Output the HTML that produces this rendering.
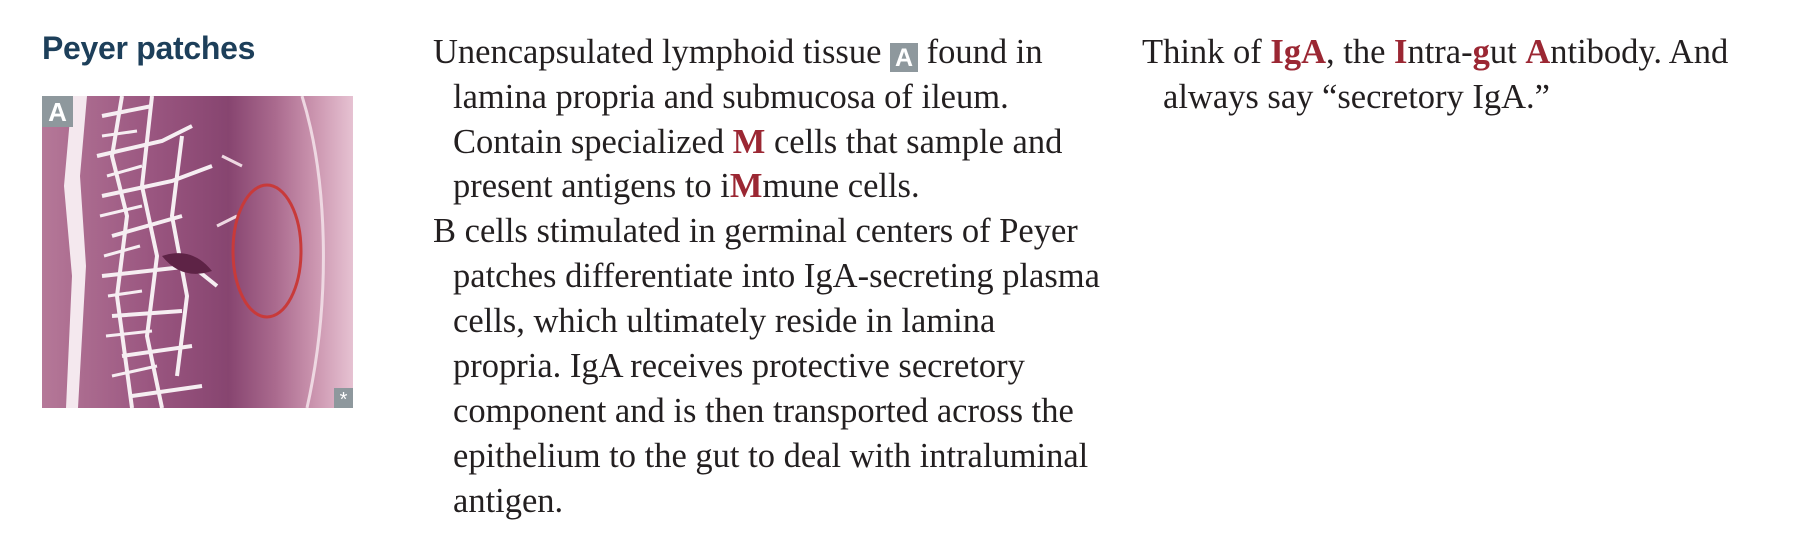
<!DOCTYPE html>
<html><head><meta charset="utf-8"><style>
html,body{margin:0;padding:0;background:#fff;}
body{width:1802px;height:540px;position:relative;overflow:hidden;}
.t{position:absolute;font-family:"Liberation Serif",serif;font-size:34.5px;color:#231f20;white-space:nowrap;line-height:1;}
.r{color:#9b2733;font-weight:bold;}
.box{display:inline-block;background:#8e989d;color:#fff;font-family:"Liberation Sans",sans-serif;font-weight:bold;font-size:25px;width:28px;height:29px;line-height:30px;text-align:center;vertical-align:-3px;}
</style></head><body>
<div style="position:absolute;left:42px;top:30px;font-family:'Liberation Sans',sans-serif;font-weight:bold;font-size:32px;color:#1d3f5a;letter-spacing:-0.3px;">Peyer patches</div>

<svg style="position:absolute;left:42px;top:96px" width="311" height="312" viewBox="0 0 311 312">
<defs>
<linearGradient id="g" x1="0" x2="1" y1="0" y2="0">
<stop offset="0" stop-color="#b57898"/><stop offset="0.35" stop-color="#9a5680"/><stop offset="0.6" stop-color="#874570"/><stop offset="0.75" stop-color="#aa6a8e"/><stop offset="0.88" stop-color="#cc96b0"/><stop offset="1" stop-color="#e6c2d2"/>
</linearGradient>
</defs>
<rect width="311" height="312" fill="url(#g)"/>
<path d="M30 0 L45 0 L38 80 L44 170 L36 312 L24 312 L30 180 L22 90 Z" fill="#f4e8ee"/>
<g stroke="#f6eef2" stroke-width="4" fill="none">
<path d="M60 20 L110 10 M55 60 L120 45 L150 30 M60 100 L130 85 L170 70 M70 140 L140 120 M60 180 L150 170 L175 190 M70 220 L140 215 M80 260 L150 250 M90 300 L160 290"/>
<path d="M80 0 L70 60 L85 120 L75 200 L90 312 M110 0 L100 90 L115 160 L105 240 L120 312 M140 40 L130 120 L145 200 L135 280"/>
<path d="M60 40 L95 35 M65 80 L100 70 M58 120 L100 110 M62 160 L98 150 M66 200 L100 195 M64 240 L110 235 M70 280 L115 270" stroke-width="3"/>
<path d="M180 60 L200 70 M175 130 L195 120 M260 0 C285 80 290 200 265 312" stroke="#eed8e2" stroke-width="3"/>
</g>
<path d="M120 160 Q150 150 170 175 Q140 185 120 160Z" fill="#5e2346"/>
<ellipse cx="225" cy="155" rx="34" ry="66" fill="none" stroke="#c83a3a" stroke-width="3"/>
<rect x="0" y="0" width="31" height="31" fill="#8e989d"/>
<text x="15.5" y="25" text-anchor="middle" font-family="Liberation Sans,sans-serif" font-weight="bold" font-size="26" fill="#fff">A</text>
<rect x="292" y="292" width="19" height="20" fill="#8e989d"/>
<text x="301.5" y="310" text-anchor="middle" font-family="Liberation Sans,sans-serif" font-size="20" fill="#fff">*</text>
</svg>

<div>
<div class="t" style="left:433px;top:35px">Unencapsulated lymphoid tissue <span class="box">A</span> found in</div>
<div class="t" style="left:453px;top:80px">lamina propria and submucosa of ileum.</div>
<div class="t" style="left:453px;top:125px">Contain specialized <span class="r">M</span> cells that sample and</div>
<div class="t" style="left:453px;top:169px">present antigens to i<span class="r">M</span>mune cells.</div>
<div class="t" style="left:433px;top:214px">B cells stimulated in germinal centers of Peyer</div>
<div class="t" style="left:453px;top:259px">patches differentiate into IgA-secreting plasma</div>
<div class="t" style="left:453px;top:304px">cells, which ultimately reside in lamina</div>
<div class="t" style="left:453px;top:349px">propria. IgA receives protective secretory</div>
<div class="t" style="left:453px;top:394px">component and is then transported across the</div>
<div class="t" style="left:453px;top:439px">epithelium to the gut to deal with intraluminal</div>
<div class="t" style="left:453px;top:484px">antigen.</div>
</div>

<div>
<div class="t" style="left:1142px;top:35px">Think of <span class="r">IgA</span>, the <span class="r">I</span>ntra-<span class="r">g</span>ut <span class="r">A</span>ntibody. And</div>
<div class="t" style="left:1163px;top:80px">always say “secretory IgA.”</div>
</div>
</body></html>
